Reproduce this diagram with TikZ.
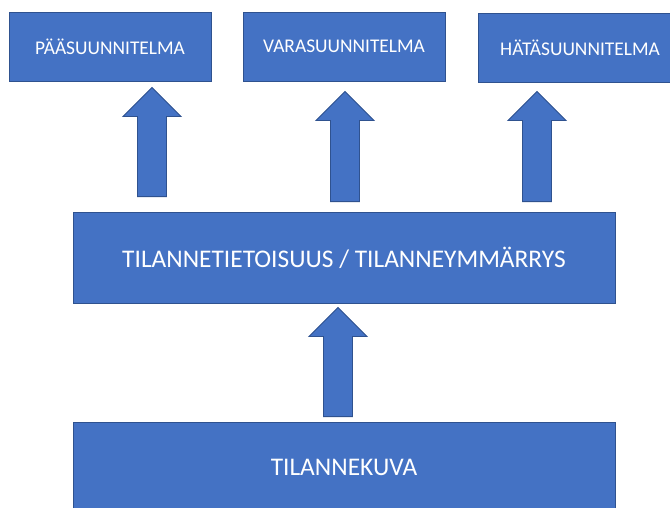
\documentclass[tikz,border=0pt]{standalone}
\usepackage{fontspec}
\setmainfont{Carlito}
\usetikzlibrary{calc}

\definecolor{boxblue}{HTML}{4472C4}
\definecolor{boxedge}{HTML}{2F528F}

\tikzset{
  planbox/.style={draw=boxedge, line width=0.9pt, fill=boxblue, text=white,
    minimum width=202pt, minimum height=69pt, inner sep=0pt, font=\fontsize{19.4}{23}\selectfont},
  widebox/.style={planbox, minimum width=542pt, minimum height=91pt,
    font=\fontsize{25.4}{30}\selectfont},
  blockarr/.style={draw=boxedge, line width=0.9pt, fill=boxblue, line join=miter}
}

% tail, tip
\newcommand{\blockarrow}[2]{%
  \draw[blockarr] let \p1=(#1), \p2=(#2) in
    (\x1-14.5pt,\y1) -- (\x1+14.5pt,\y1) -- (\x1+14.5pt,\y2-29pt)
    -- (\x1+29pt,\y2-29pt) -- (\x2,\y2) -- (\x1-29pt,\y2-29pt)
    -- (\x1-14.5pt,\y2-29pt) -- cycle;}

\begin{document}
\begin{tikzpicture}[x=1pt, y=-1pt]
\useasboundingbox (0,0) rectangle (670,507);
\clip (0,0) rectangle (670,507);

% Plans
\node[planbox] (paa) at (110,46.5) {PÄÄSUUNNITELMA};
\node[planbox] (vara) at (344,46.5) {VARASUUNNITELMA};
\node[planbox, minimum width=204pt] (hata) at (580,47.5) {HÄTÄSUUNNITELMA};

% Awareness
\node[widebox] (tietoisuus) at (344,257.5) {TILANNETIETOISUUS / TILANNEYMMÄRRYS};

% Picture
\node[widebox] (kuva) at (344,467.5) {TILANNEKUVA};

% Arrow ends
\coordinate (h1) at ([xshift=42pt,yshift=-6pt]paa.south);
\coordinate (t1) at ([xshift=-192pt,yshift=15pt]tietoisuus.north);
\coordinate (h2) at ([xshift=1pt,yshift=-10pt]vara.south);
\coordinate (t2) at ([xshift=1pt,yshift=10pt]tietoisuus.north);
\coordinate (h3) at ([xshift=-43pt,yshift=-9pt]hata.south);
\coordinate (t3) at ([xshift=193pt,yshift=10pt]tietoisuus.north);
\coordinate (h4) at ([xshift=-6pt,yshift=-4pt]tietoisuus.south);
\coordinate (t4) at ([xshift=-6pt,yshift=5pt]kuva.north);

% Arrows
\blockarrow{t1}{h1}
\blockarrow{t2}{h2}
\blockarrow{t3}{h3}
\blockarrow{t4}{h4}

\end{tikzpicture}
\end{document}
